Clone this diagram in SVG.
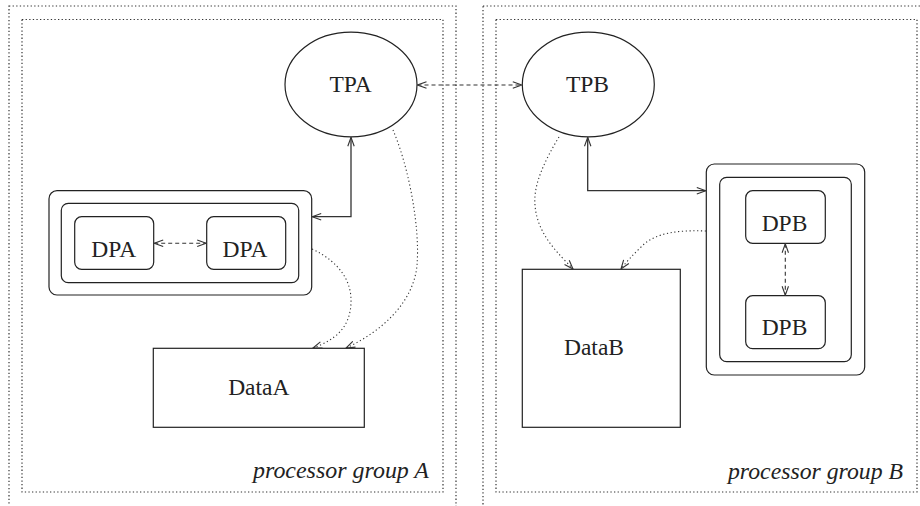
<svg xmlns="http://www.w3.org/2000/svg" width="920" height="506" viewBox="0 0 920 506">
  <style>
    .bg { fill: #ffffff; }
    .frame { fill: none; stroke: #333; stroke-width: 1.2; stroke-dasharray: 1.3 2.3; }
    .shape { fill: #ffffff; stroke: #222; stroke-width: 1.2; }
    .box { fill: none; stroke: #222; stroke-width: 1.2; }
    .label { font-family: "Liberation Serif", "Times New Roman", serif; font-size: 23.5px; fill: #222; text-anchor: middle; }
    .group-label { font-family: "Liberation Serif", "Times New Roman", serif; font-style: italic; font-size: 23px; fill: #222; text-anchor: end; }
    .solid { fill: none; stroke: #333; stroke-width: 1.3; }
    .dashed { fill: none; stroke: #333; stroke-width: 1.1; stroke-dasharray: 4 3; }
    .dotted { fill: none; stroke: #333; stroke-width: 1.1; stroke-dasharray: 1.2 2.6; }
  </style>
  <defs>
    <marker id="arrow" viewBox="0 0 10 8" refX="9.5" refY="4" markerWidth="10" markerHeight="8" markerUnits="userSpaceOnUse" orient="auto-start-reverse">
      <path d="M0.5,0.8 L9.5,4 L0.5,7.2" fill="none" stroke="#333" stroke-width="1.1"/>
    </marker>
  </defs>

  <rect class="bg" x="0" y="0" width="920" height="506"/>

  <!-- processor group A -->
  <g id="group-a">
    <rect class="frame" x="9" y="6" width="447" height="520"/>
    <rect class="frame" x="22" y="19.5" width="421" height="472.5"/>
    <text class="group-label" x="429" y="478" textLength="176" lengthAdjust="spacingAndGlyphs">processor group A</text>
  </g>

  <!-- processor group B -->
  <g id="group-b">
    <rect class="frame" x="483" y="6" width="460" height="520"/>
    <rect class="frame" x="496" y="19.5" width="421" height="472.5"/>
    <text class="group-label" x="903" y="479" textLength="175" lengthAdjust="spacingAndGlyphs">processor group B</text>
  </g>

  <g id="tpa">
    <ellipse class="shape" cx="351" cy="84.5" rx="66" ry="52.3"/>
    <text class="label" x="350.5" y="92">TPA</text>
  </g>

  <g id="tpb">
    <ellipse class="shape" cx="588.3" cy="84.5" rx="66" ry="52.3"/>
    <text class="label" x="587.5" y="92">TPB</text>
  </g>

  <g id="dpa-cluster">
    <rect class="box" x="49" y="190.7" width="262.7" height="104.3" rx="8"/>
    <rect class="box" x="61.3" y="203.3" width="237.4" height="79.4" rx="7"/>
  </g>
  <g id="dpa-1">
    <rect class="box" x="74.7" y="216.7" width="79" height="52.6" rx="7"/>
    <text class="label" x="113.7" y="257">DPA</text>
  </g>
  <g id="dpa-2">
    <rect class="box" x="206.7" y="216.7" width="79" height="52.6" rx="7"/>
    <text class="label" x="245" y="257">DPA</text>
  </g>

  <g id="dpb-cluster">
    <rect class="box" x="706.3" y="164" width="158.4" height="211" rx="8"/>
    <rect class="box" x="719.7" y="177.3" width="131.6" height="184.4" rx="7"/>
  </g>
  <g id="dpb-1">
    <rect class="box" x="745.7" y="190.7" width="79.6" height="52.6" rx="7"/>
    <text class="label" x="784.5" y="230.5">DPB</text>
  </g>
  <g id="dpb-2">
    <rect class="box" x="745.7" y="295.7" width="79.6" height="53" rx="7"/>
    <text class="label" x="784.5" y="335.3">DPB</text>
  </g>

  <g id="data-a">
    <rect class="box" x="153.3" y="348.3" width="211" height="79"/>
    <text class="label" x="258.8" y="395.3">DataA</text>
  </g>

  <g id="data-b">
    <rect class="box" x="522.3" y="269.3" width="158" height="158"/>
    <text class="label" x="594" y="355.3">DataB</text>
  </g>

  <g id="connectors">
    <!-- TPA <-> TPB -->
    <path class="dashed" d="M417.5,85 L521.8,85" marker-start="url(#arrow)" marker-end="url(#arrow)"/>
    <!-- DPA <-> DPA -->
    <path class="dashed" d="M154.2,243.3 L206.2,243.3" marker-start="url(#arrow)" marker-end="url(#arrow)"/>
    <!-- DPB <-> DPB -->
    <path class="dashed" d="M785.3,243.8 L785.3,295.2" marker-start="url(#arrow)" marker-end="url(#arrow)"/>
    <!-- TPA <-> DPA cluster -->
    <path class="solid" d="M351,137.3 L351,216.7 L312.2,216.7" marker-start="url(#arrow)" marker-end="url(#arrow)"/>
    <!-- TPB <-> DPB cluster -->
    <path class="solid" d="M587.7,137.3 L587.7,190.7 L705.8,190.7" marker-start="url(#arrow)" marker-end="url(#arrow)"/>
    <!-- data access, group A -->
    <path class="dotted" d="M312,249 C340,262 352,282 351,303 C350,328 335,340 313,348" marker-end="url(#arrow)"/>
    <path class="dotted" d="M393,130 C410,170 420,230 417,265 C414,300 385,330 346,348" marker-end="url(#arrow)"/>
    <!-- data access, group B -->
    <path class="dotted" d="M559,137 C545,160 533,185 535,205 C537,235 560,255 573,269" marker-end="url(#arrow)"/>
    <path class="dotted" d="M706,231 C680,230 655,232 641,247 C633,255 626,262 621,269" marker-end="url(#arrow)"/>
  </g>
</svg>
